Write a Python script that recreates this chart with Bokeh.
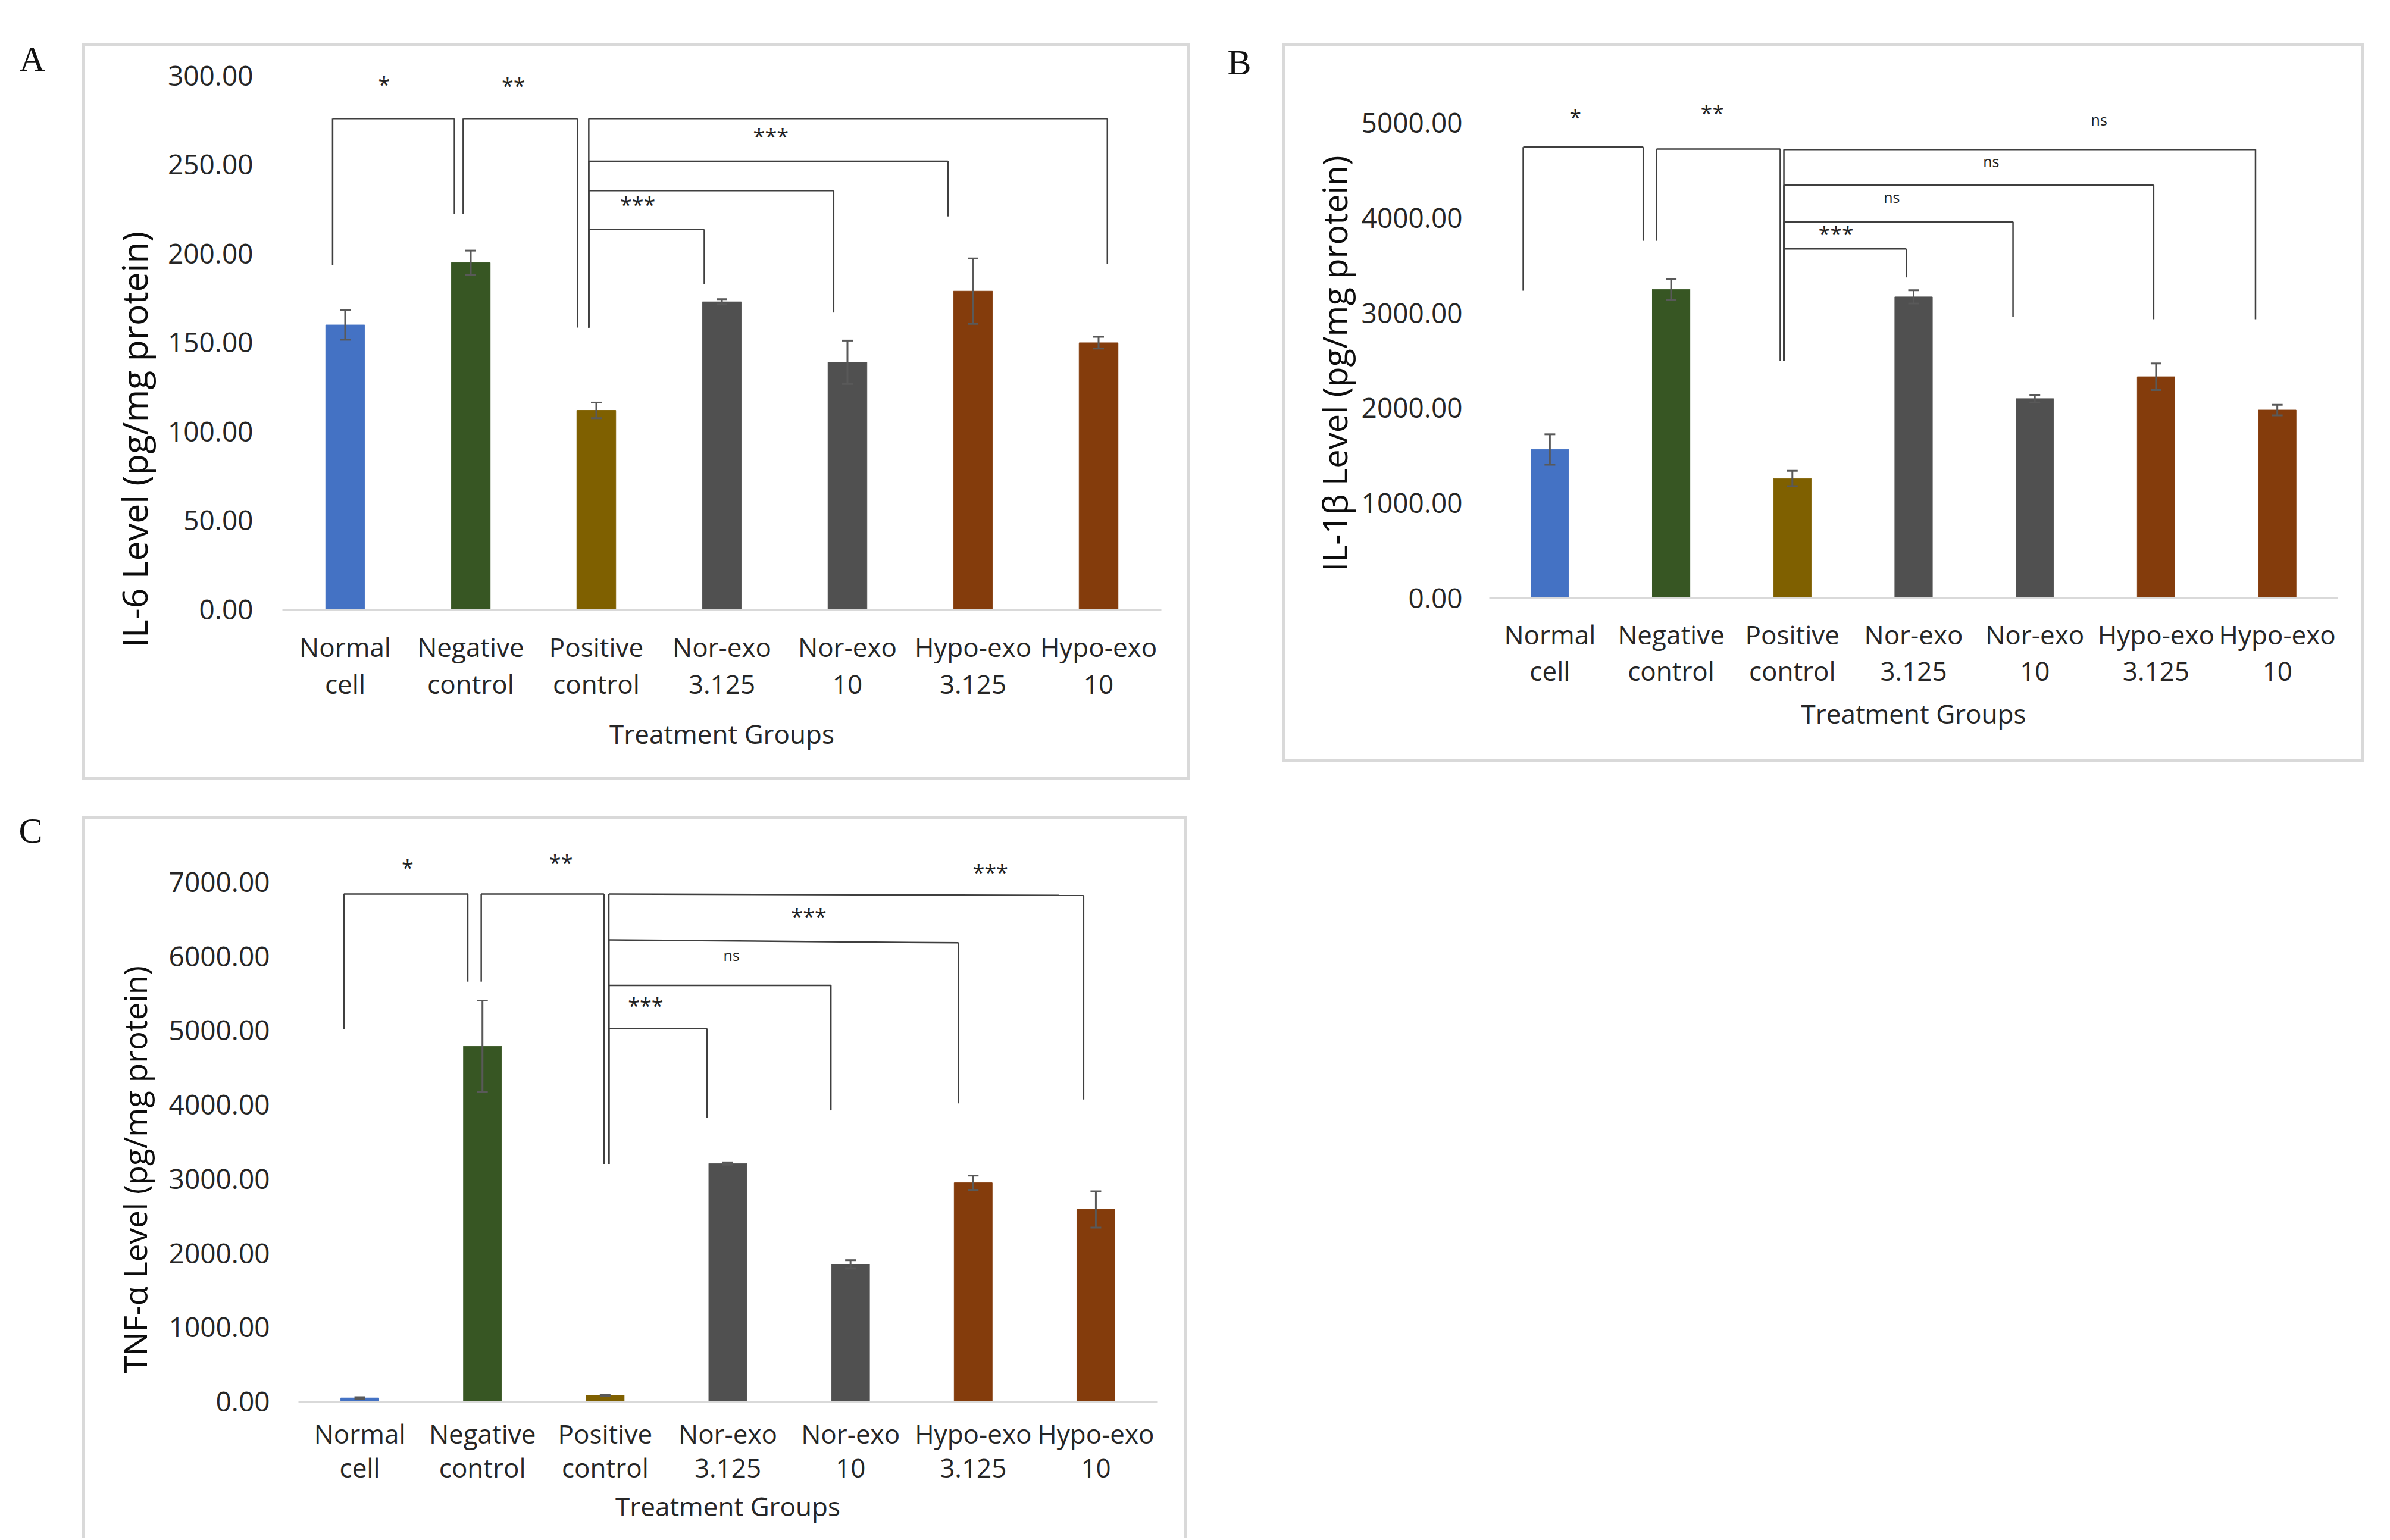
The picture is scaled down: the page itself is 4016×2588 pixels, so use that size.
from bokeh.plotting import figure
from bokeh.models import (FactorRange, Range1d, FixedTicker, NumeralTickFormatter,
                          ColumnDataSource, Whisker, Spacer)
from bokeh.layouts import row, column
from bokeh.core.properties import value
from bokeh.embed import file_html
from bokeh.resources import INLINE

# ---------------- data ----------------
categories = ["Normal\ncell", "Negative\ncontrol", "Positive\ncontrol",
              "Nor-exo\n3.125", "Nor-exo\n10", "Hypo-exo\n3.125", "Hypo-exo\n10"]
bar_colors = ["#4472C4", "#375623", "#7F6000", "#505050", "#505050", "#843C0C", "#843C0C"]

# Panel A : IL-6
il6_mean = [160, 195, 112, 173, 139, 179, 150]
il6_err = [8.3, 6.8, 4.4, 1.5, 12.2, 18.4, 3.3]
il6_ticks = [0, 50, 100, 150, 200, 250, 300]
il6_br_x1 = [-0.10, 0.94, 1.94, 1.94, 1.94, 1.94]
il6_br_x2 = [0.87, 1.85, 6.07, 4.80, 3.89, 2.86]
il6_br_top_l = [276, 276, 276, 252, 235.5, 213.7]
il6_br_top_r = [276, 276, 276, 252, 235.5, 213.7]
il6_br_left_end = [193.7, 222.4, 158.5, 158.5, 158.5, 158.5]
il6_br_right_end = [222.4, 158.5, 194.5, 221, 167, 183]
il6_sig_x = [0.31, 1.34, 3.39, 2.33]
il6_sig_y = [297, 296.4, 267.8, 229.5]
il6_sig_text = ["*", "**", "***", "***"]

# Panel B : IL-1beta
il1b_mean = [1565, 3250, 1260, 3170, 2100, 2330, 1980]
il1b_err = [160, 110, 80, 70, 40, 140, 55]
il1b_ticks = [0, 1000, 2000, 3000, 4000, 5000]
il1b_br_x1 = [-0.22, 0.88, 1.93, 1.93, 1.93, 1.93]
il1b_br_x2 = [0.77, 1.90, 5.82, 4.98, 3.82, 2.94]
il1b_br_top_l = [4745, 4725, 4720, 4345, 3960, 3675]
il1b_br_top_r = [4745, 4725, 4720, 4345, 3960, 3675]
il1b_br_left_end = [3235, 3760, 2500, 2500, 2500, 2500]
il1b_br_right_end = [3760, 2500, 2935, 2935, 2960, 3375]
il1b_sig_x = [0.21, 1.34, 4.53, 3.64, 2.82, 2.36]
il1b_sig_y = [5095, 5135, 5035, 4595, 4220, 3870]
il1b_sig_text = ["*", "**", "ns", "ns", "ns", "***"]

# Panel C : TNF-alpha
tnf_mean = [50, 4790, 85, 3210, 1850, 2950, 2590]
tnf_err = [10, 615, 10, 15, 57, 96, 245]
tnf_ticks = [0, 1000, 2000, 3000, 4000, 5000, 6000, 7000]
tnf_br_x1 = [-0.13, 0.99, 2.03, 2.03, 2.03, 2.03]
tnf_br_x2 = [0.88, 1.99, 5.90, 4.88, 3.84, 2.83]
tnf_br_top_l = [6841, 6841, 6841, 6222, 5609, 5029]
tnf_br_top_r = [6841, 6841, 6822, 6184, 5609, 5029]
tnf_br_left_end = [5022, 5660, 3204, 3204, 3204, 3204]
tnf_br_right_end = [5660, 3204, 4072, 4020, 3925, 3822]
tnf_sig_x = [0.39, 1.64, 5.14, 3.66, 3.03, 2.33]
tnf_sig_y = [7243, 7307, 7180, 6586, 6018, 5380]
tnf_sig_text = ["*", "**", "***", "***", "ns", "***"]

panel_letters = ["A", "B", "C"]

TICK_FONT = "Open Sans"
TEXT_COL = "#262626"
FRAME_COL = "#d9d9d9"


def frame_css(w, bottom=True):
    """Light-grey 5px box drawn as CSS backgrounds, anchored on the right edge."""
    g = "linear-gradient(%s,%s)" % (FRAME_COL, FRAME_COL)
    imgs = [g, g, g]
    sizes = ["%dpx 5px" % w, "5px 100%", "5px 100%"]
    pos = ["right 0px top 0px", "right 0px top 0px", "right %dpx top 0px" % (w - 5)]
    if bottom:
        imgs.append(g)
        sizes.append("%dpx 5px" % w)
        pos.append("right 0px bottom 0px")
    return {"background-image": ", ".join(imgs),
            "background-size": ", ".join(sizes),
            "background-position": ", ".join(pos),
            "background-repeat": "no-repeat"}


def make_panel(means, errs, ticks, y_end, ytitle, bx1, bx2, btl, btr, ble, bre,
               sx, sy, stext, g, frame_style):
    p = figure(x_range=FactorRange(factors=categories), y_range=Range1d(0, y_end),
               width=g["w"], height=g["h"], output_backend="svg", toolbar_location=None,
               tools="", min_border_left=g["l"], min_border_right=g["r"],
               min_border_top=g["t"], min_border_bottom=g["b"],
               title=ytitle, title_location="left")
    p.background_fill_color = None
    p.border_fill_color = None
    p.outline_line_color = None
    p.xgrid.grid_line_color = None
    p.ygrid.grid_line_color = None
    p.styles = frame_style

    # y-axis title (as a left title so that it can sit lower, like the original)
    p.title.align = "left"
    p.title.offset = g["toff"]
    p.title.standoff = g["tst"]
    p.title.text_font = "Open Sans"
    p.title.text_font_size = g["yfs"]
    p.title.text_font_style = "normal"
    p.title.text_color = "#0d0d0d"

    src = ColumnDataSource(dict(x=categories, top=means,
                                upper=[m + e for m, e in zip(means, errs)],
                                lower=[m - e for m, e in zip(means, errs)],
                                color=bar_colors))
    p.vbar(x="x", top="top", width=0.31, color="color", source=src)
    w = Whisker(base="x", upper="upper", lower="lower", source=src,
                line_color="#595959", line_width=3, level="annotation")
    for hd in (w.upper_head, w.lower_head):
        hd.size = 18
        hd.line_color = "#595959"
        hd.line_width = 3
    p.add_layout(w)

    # significance brackets (synthetic coordinate = index + 0.5)
    x0, y0, x1s, y1s = [], [], [], []
    for a, b, tl, tr, le, re in zip(bx1, bx2, btl, btr, ble, bre):
        xa, xb = a + 0.5, b + 0.5
        x0 += [xa, xa, xb]
        y0 += [tl, tl, tr]
        x1s += [xb, xa, xb]
        y1s += [tr, le, re]
    p.segment(x0=x0, y0=y0, x1=x1s, y1=y1s, line_color="#3f3f3f", line_width=2.5)

    sizes = ["25px" if t == "ns" else "36px" for t in stext]
    offs = [0 if t == "ns" else 5 for t in stext]
    p.text(x=[v + 0.5 for v in sx], y=sy, text=stext, text_font=value(TICK_FONT),
           text_font_size=sizes, y_offset=offs, text_align="center",
           text_baseline="middle", text_color="#222222")

    yax = p.yaxis[0]
    yax.ticker = FixedTicker(ticks=ticks)
    yax.formatter = NumeralTickFormatter(format="0.00")
    yax.axis_line_color = None
    yax.major_tick_line_color = None
    yax.minor_tick_line_color = None
    yax.major_tick_out = 0
    yax.major_label_text_font = TICK_FONT
    yax.major_label_text_font_size = "46px"
    yax.major_label_text_color = TEXT_COL
    yax.major_label_standoff = g["ys"]

    xax = p.xaxis[0]
    xax.axis_line_color = FRAME_COL
    xax.axis_line_width = 3
    xax.major_tick_line_color = None
    xax.major_tick_out = 0
    xax.major_label_text_font = TICK_FONT
    xax.major_label_text_font_size = "44px"
    xax.major_label_text_color = TEXT_COL
    xax.major_label_text_line_height = g["lh"]
    xax.major_label_standoff = g["xs"]
    xax.axis_label = "Treatment Groups"
    xax.axis_label_text_font = TICK_FONT
    xax.axis_label_text_font_size = "44px"
    xax.axis_label_text_font_style = "normal"
    xax.axis_label_text_color = TEXT_COL
    xax.axis_label_standoff = g["xts"]
    return p


def letter_fig(txt, w, h, tx, ty):
    f = figure(width=w, height=h, x_range=Range1d(0, w), y_range=Range1d(h, 0),
               x_axis_type=None, y_axis_type=None, output_backend="svg",
               toolbar_location=None, tools="", min_border=0)
    f.background_fill_color = None
    f.border_fill_color = None
    f.outline_line_color = None
    f.xgrid.grid_line_color = None
    f.ygrid.grid_line_color = None
    f.text(x=[tx], y=[ty], text=[txt], text_font=value("Liberation Serif"),
           text_font_size="60px", text_align="left", text_baseline="alphabetic",
           text_color="#111111")
    return f


geomA = dict(w=1861, h=1237, l=336, r=48, t=19, b=286, ys=49, yfs="59px", toff=-64, tst=27,
             xs=32, xts=21, lh=1.04)
geomB = dict(w=1818, h=1207, l=347, r=45, t=47, b=275, ys=45, yfs="56px", toff=45, tst=9,
             xs=30, xts=9, lh=1.02)
geomC = dict(w=1856, h=1214, l=363, r=50, t=39, b=230, ys=48, yfs="53px", toff=48, tst=36,
             xs=23, xts=2, lh=0.95)

pA = make_panel(il6_mean, il6_err, il6_ticks, 311.7, "IL-6 Level (pg/mg protein)",
                il6_br_x1, il6_br_x2, il6_br_top_l, il6_br_top_r, il6_br_left_end,
                il6_br_right_end, il6_sig_x, il6_sig_y, il6_sig_text, geomA,
                frame_css(geomA["w"]))
pB = make_panel(il1b_mean, il1b_err, il1b_ticks, 5538, "IL-1β Level (pg/mg protein)",
                il1b_br_x1, il1b_br_x2, il1b_br_top_l, il1b_br_top_r, il1b_br_left_end,
                il1b_br_right_end, il1b_sig_x, il1b_sig_y, il1b_sig_text, geomB,
                frame_css(geomB["w"]))
pC = make_panel(tnf_mean, tnf_err, tnf_ticks, 7578, "TNF-α Level (pg/mg protein)",
                tnf_br_x1, tnf_br_x2, tnf_br_top_l, tnf_br_top_r, tnf_br_left_end,
                tnf_br_right_end, tnf_sig_x, tnf_sig_y, tnf_sig_text, geomC,
                frame_css(geomC["w"], bottom=False))

lA = letter_fig(panel_letters[0], 138, 220, 32, 98)
lB = letter_fig(panel_letters[1], 156, 220, 63, 104)
lC = letter_fig(panel_letters[2], 138, 220, 31, 55)

top = row(lA,
          column(Spacer(width=1861, height=73), pA),
          lB,
          column(Spacer(width=1818, height=73), pB))
bottom = row(lC, column(Spacer(width=1856, height=31), pC))
layout = column(top, Spacer(width=100, height=30), bottom)

open("out.html", "w").write(file_html(layout, INLINE))
